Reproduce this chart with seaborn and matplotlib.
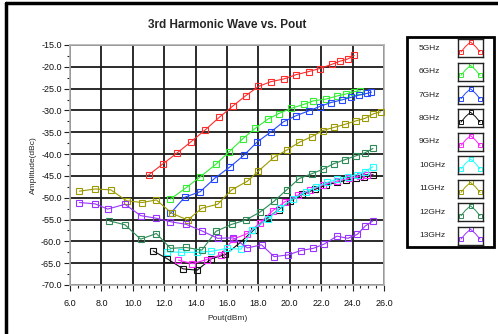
import numpy as np
import pandas as pd
import matplotlib
matplotlib.use("Agg")
import matplotlib.pyplot as plt
from matplotlib.lines import Line2D
from matplotlib.patches import Rectangle
from matplotlib.ticker import MultipleLocator, FormatStrFormatter
import seaborn as sns

labels = ["5GHz", "6GHz", "7GHz", "8GHz", "9GHz", "10GHz", "11GHz", "12GHz", "13GHz"]
colors = ["#ff2a2a", "#33ee33", "#2448ff", "#111111", "#ff22ff", "#22ffff", "#9c9a00", "#2e8b57", "#9933ff"]

x5 = [11.0, 11.9, 12.8, 13.7, 14.6, 15.5, 16.4, 17.2, 18.0, 18.8, 19.6, 20.4, 21.2, 21.9, 22.7, 23.2, 23.7, 24.1]
y5 = [-44.8, -42.3, -39.8, -37.2, -34.5, -31.6, -28.9, -26.6, -24.5, -23.4, -22.8, -21.8, -21.1, -20.4, -19.4, -18.7, -18.2, -17.4]

x6 = [12.4, 13.4, 14.3, 15.3, 16.1, 17.0, 17.8, 18.6, 19.3, 20.1, 20.9, 21.5, 22.3, 23.0, 23.6, 24.1, 24.5]
y6 = [-50.3, -47.7, -45.2, -42.3, -39.6, -36.5, -34.1, -32.0, -30.7, -29.5, -28.6, -27.8, -27.4, -26.7, -26.2, -25.7, -25.5]

x7 = [12.4, 13.3, 14.3, 15.2, 16.2, 17.1, 17.9, 18.8, 19.6, 20.4, 21.2, 21.9, 22.6, 23.3, 23.9, 24.4, 24.9, 25.2]
y7 = [-53.6, -49.9, -48.6, -45.6, -42.9, -40.2, -37.3, -34.9, -32.6, -31.2, -30.1, -29.1, -28.2, -27.6, -27.0, -26.5, -26.1, -25.8]

x8 = [11.3, 12.2, 13.2, 14.1, 15.0, 15.9, 16.8, 17.7, 18.6, 19.3, 20.0, 20.8, 21.6, 22.3, 23.0, 23.6, 24.2, 24.7, 25.3]
y8 = [-62.2, -64.0, -66.3, -66.6, -64.0, -63.0, -60.4, -57.4, -54.6, -52.7, -50.8, -49.2, -48.1, -47.1, -46.5, -46.0, -45.5, -45.2, -44.7]

x9 = [12.9, 13.8, 14.7, 15.6, 16.4, 17.3, 18.1, 18.9, 19.7, 20.5, 21.3, 22.1, 23.0, 23.8, 24.5, 24.9]
y9 = [-64.3, -65.1, -64.2, -63.1, -59.5, -58.2, -55.8, -53.0, -50.9, -49.4, -48.2, -47.1, -46.2, -45.5, -45.0, -44.8]

x10 = [12.2, 13.1, 14.1, 15.0, 16.0, 16.9, 17.6, 18.6, 19.4, 20.2, 21.0, 21.7, 22.4, 23.0, 23.7, 24.3, 24.8, 25.3]
y10 = [-62.4, -62.5, -62.5, -62.3, -61.6, -61.8, -57.4, -54.9, -52.3, -50.3, -48.7, -47.5, -46.5, -45.8, -45.2, -44.7, -44.0, -42.9]

x11 = [6.6, 7.6, 8.6, 9.6, 10.6, 11.5, 12.5, 13.5, 14.4, 15.4, 16.3, 17.3, 18.0, 19.0, 19.8, 20.6, 21.4, 22.1, 22.8, 23.5, 24.2, 24.8, 25.3, 25.8]
y11 = [-48.5, -48.0, -48.2, -50.7, -51.1, -50.5, -53.6, -55.1, -52.4, -51.5, -48.2, -46.2, -43.9, -40.7, -39.1, -37.3, -36.0, -34.6, -33.9, -33.2, -32.4, -31.8, -30.8, -30.3]

x12 = [8.5, 9.5, 10.5, 11.5, 12.4, 13.4, 14.4, 15.3, 16.3, 17.2, 18.1, 19.0, 19.8, 20.6, 21.4, 22.1, 22.8, 23.5, 24.2, 24.8, 25.3]
y12 = [-55.3, -56.2, -59.5, -58.2, -61.6, -61.4, -62.0, -57.7, -56.1, -55.1, -53.3, -50.8, -48.2, -45.6, -44.5, -43.5, -42.2, -41.3, -40.4, -39.7, -38.7]

x13 = [6.6, 7.6, 8.4, 9.5, 10.5, 11.5, 12.4, 13.4, 14.4, 15.4, 16.4, 17.3, 18.2, 19.0, 19.9, 20.7, 21.5, 22.2, 23.0, 23.7, 24.3, 24.8, 25.3]
y13 = [-51.1, -51.4, -52.6, -51.5, -54.1, -54.7, -55.5, -56.1, -57.6, -59.3, -59.2, -61.5, -60.8, -63.5, -63.1, -62.1, -61.6, -60.6, -58.8, -59.3, -58.4, -56.5, -55.3]

xs = [x5, x6, x7, x8, x9, x10, x11, x12, x13]
ys = [y5, y6, y7, y8, y9, y10, y11, y12, y13]

xticks = [6, 8, 10, 12, 14, 16, 18, 20, 22, 24, 26]
yticks = [-15, -20, -25, -30, -35, -40, -45, -50, -55, -60, -65, -70]

sns.set_style("white")
plt.rcParams['font.family'] = ['Liberation Sans', 'DejaVu Sans']

fig = plt.figure(figsize=(4.98, 3.34), dpi=100)
ax = fig.add_axes([70/498, 1-285/334, (384-70)/498, (285-45)/334])

for lab, c, xv, yv in zip(labels, colors, xs, ys):
    df = pd.DataFrame({"x": xv, "y": yv})
    sns.lineplot(data=df, x="x", y="y", ax=ax, color=c, lw=0.8, sort=False,
                 marker="s", markersize=4.0, markerfacecolor="none",
                 markeredgecolor=c, markeredgewidth=0.8, zorder=3)

ax.set_xlim(6, 26)
ax.set_ylim(-70, -15)
ax.set_xticks(xticks)
ax.set_yticks(yticks)
ax.xaxis.set_major_formatter(FormatStrFormatter("%.1f"))
ax.yaxis.set_major_formatter(FormatStrFormatter("%.1f"))
ax.xaxis.set_minor_locator(MultipleLocator(0.5))
ax.yaxis.set_minor_locator(MultipleLocator(2.5))
ax.grid(True, which="major", color="#1a1a1a", lw=1.3)
ax.set_axisbelow(True)
for s in ax.spines.values():
    s.set_color("#b0b0b0")
    s.set_linewidth(1.2)
ax.tick_params(axis="both", which="major", labelsize=6.5, length=4, width=0.8,
               color="#222222", direction="out", pad=2, labelcolor="#111111")
ax.tick_params(axis="both", which="minor", length=2.5, width=0.8, color="#222222", direction="out")
ax.tick_params(axis="x", pad=6)
ax.xaxis.set_ticks_position("bottom")
ax.yaxis.set_ticks_position("left")
ax.set_xlabel("Pout(dBm)", fontsize=6, labelpad=5)
ax.set_ylabel("Amplitude(dBc)", fontsize=6, labelpad=3)
ax.set_title("3rd Harmonic Wave vs. Pout", fontsize=8.5, fontweight="bold", pad=12)

# figure frame lines
fig.add_artist(Line2D([6/498, 6/498], [0, 1-3/334], color="black", lw=2.5, transform=fig.transFigure))
fig.add_artist(Line2D([6/498, 1], [1-3/334, 1-3/334], color="black", lw=2.5, transform=fig.transFigure))

# legend panel
lx0, ly0, lx1, ly1 = 407, 37, 494, 247
fig.add_artist(Rectangle((lx0/498, 1-ly1/334), (lx1-lx0)/498, (ly1-ly0)/334,
                         transform=fig.transFigure, fill=False, ec="black", lw=2))
icon_x = [0.12, 0.3, 0.5, 0.7, 0.88]
icon_y = [0.3, 0.6, 0.85, 0.6, 0.3]
for i, (lab, c) in enumerate(zip(labels, colors)):
    yc = 48.3 + i*23.4
    fig.text(419/498, 1-yc/334, lab, fontsize=6, va="center", ha="left", color="#222222")
    iax = fig.add_axes([458/498, 1-(yc+9)/334, 25/498, 18/334])
    iax.plot(icon_x, icon_y, color=c, lw=0.7)
    iax.plot([icon_x[0], icon_x[2], icon_x[4]], [icon_y[0], icon_y[2], icon_y[4]], ls="none",
             marker="s", ms=2.5, mfc="none", mec=c, mew=0.7)
    iax.set_xlim(0, 1)
    iax.set_ylim(0, 1)
    iax.set_xticks([])
    iax.set_yticks([])
    for s in iax.spines.values():
        s.set_color("#222222")
        s.set_linewidth(1)

fig.savefig("out.png", dpi=100)
